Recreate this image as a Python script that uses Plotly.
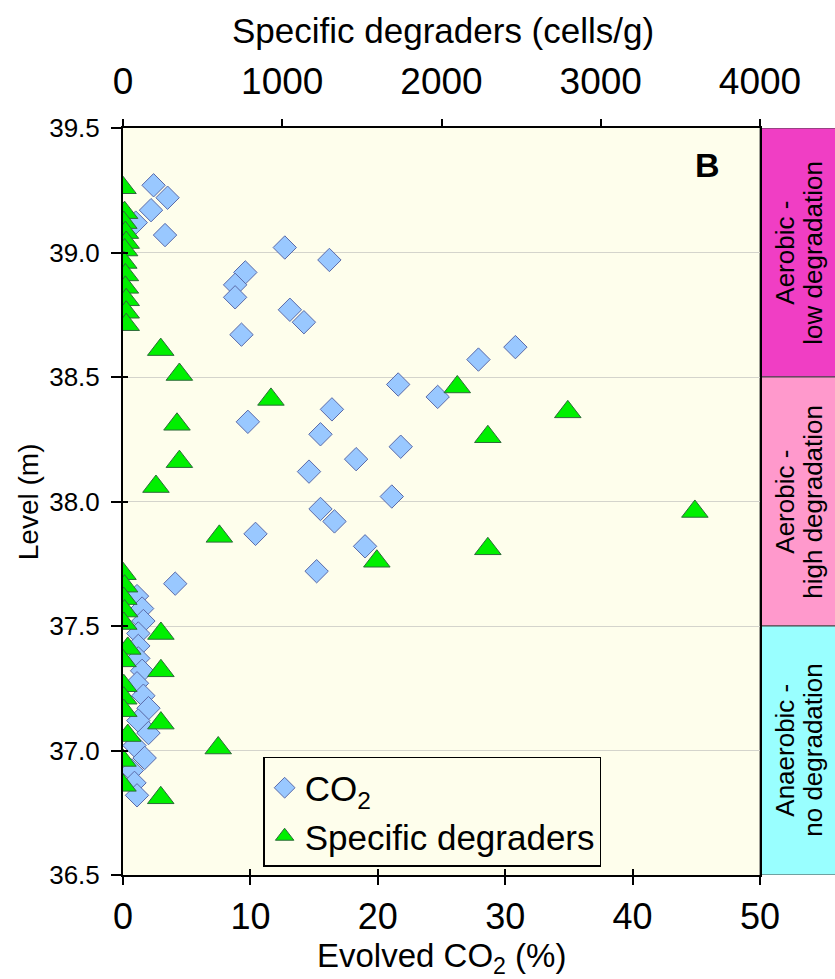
import plotly.graph_objects as go

# Evolved CO2 (%) by sediment level (m)
co2_level = [39.27, 39.22, 39.17, 39.12, 39.07, 39.02, 38.97, 38.92, 38.87, 38.82,
             38.77, 38.72, 38.67, 38.62, 38.57, 38.47, 38.42, 38.37, 38.32, 38.27,
             38.22, 38.17, 38.12, 38.02, 37.97, 37.92, 37.87, 37.82, 37.72, 37.67,
             37.62, 37.57, 37.52, 37.47, 37.42, 37.37, 37.32, 37.27, 37.22, 37.17,
             37.12, 37.07, 37.02, 36.97, 36.92, 36.87, 36.82]
co2_pct = [2.4, 3.5, 2.2, 1.0, 3.3, 12.7, 16.2, 9.6, 8.8, 8.8,
           13.1, 14.2, 9.3, 30.8, 27.9, 21.6, 24.7, 16.4, 9.8, 15.5,
           21.8, 18.3, 14.6, 21.1, 15.5, 16.6, 10.4, 19.0, 15.2, 4.1,
           1.1, 1.5, 1.6, 1.2, 1.2, 1.2, 1.5, 1.1, 1.6, 2.0,
           1.2, 2.0, 0.9, 1.7, 0.7, 0.9, 1.1]

# Specific degraders (cells/g) by sediment level (m)
deg_level = [39.26, 39.16, 39.12, 39.08, 39.04, 39.01, 38.96, 38.91, 38.86, 38.81,
             38.76, 38.71, 38.61, 38.51, 38.46, 38.41, 38.36, 38.31, 38.26, 38.16,
             38.06, 37.96, 37.86, 37.81, 37.76, 37.71, 37.66, 37.61, 37.56, 37.51,
             37.47, 37.41, 37.36, 37.32, 37.26, 37.21, 37.16, 37.11, 37.06, 37.01,
             36.96, 36.86, 36.81]
deg_cells = [0, 10, 5, 15, 20, 10, 5, 15, 15, 20,
             20, 20, 237, 354, 2099, 929, 2793, 339, 2291, 354,
             207, 3591, 605, 2291, 1594, 0, 10, 5, 10, 5,
             238, 30, 0, 238, 5, 5, 5, 238, 30, 598,
             0, 0, 237]

# Redox / degradation zones along the profile
zone_bottom = [38.5, 37.5, 36.5]
zone_top = [39.5, 38.5, 37.5]
zone_line1 = ["Aerobic -", "Aerobic -", "Anaerobic -"]
zone_line2 = ["low degradation", "high degradation", "no degradation"]
zone_colors = ["#F03EC4", "#FF99CC", "#99FFFF"]

y_ticks = [36.5, 37.0, 37.5, 38.0, 38.5, 39.0, 39.5]
x_ticks = [0, 10, 20, 30, 40, 50]
top_ticks = [0, 1000, 2000, 3000, 4000]

FONT = "Liberation Sans, Arial, sans-serif"
PLOT_BG = "#FEFEEC"

fig = go.Figure()

fig.add_trace(go.Scatter(
    x=co2_pct, y=co2_level, mode="markers", name="CO<sub>2</sub>",
    marker=dict(symbol="diamond", size=18, color="#99C8FF",
                line=dict(color="#5A6AA8", width=1)),
    xaxis="x", yaxis="y"))

fig.add_trace(go.Scatter(
    x=deg_cells, y=deg_level, mode="markers", name="Specific degraders",
    marker=dict(symbol="triangle-up", size=23, color="#00F000",
                line=dict(color="#2E6A3A", width=1)),
    xaxis="x2", yaxis="y"))

# empty trace anchoring the inner tick axes
fig.add_trace(go.Scatter(x=[], y=[], xaxis="x3", yaxis="y3",
                         showlegend=False, hoverinfo="skip"))

shapes = []
annotations = []
for lo, hi, l1, l2, col in zip(zone_bottom, zone_top, zone_line1, zone_line2, zone_colors):
    shapes.append(dict(type="rect", xref="paper", yref="y",
                       x0=1.0, x1=1.125, y0=lo, y1=hi,
                       fillcolor=col, line=dict(color="#444444", width=1),
                       layer="below"))
    for xpos, txt in ((1.038, l1), (1.082, l2)):
        annotations.append(dict(xref="paper", yref="y", x=xpos, y=(lo + hi) / 2,
                                text=txt, textangle=-90, showarrow=False,
                                xanchor="center", yanchor="middle",
                                font=dict(family=FONT, size=26, color="black")))

annotations += [
    dict(xref="paper", yref="paper", x=0.502, y=1.131, text="Specific degraders (cells/g)",
         showarrow=False, font=dict(family=FONT, size=35, color="black"),
         xanchor="center", yanchor="middle"),
    dict(xref="paper", yref="paper", x=0.5, y=-0.111, text="Evolved CO<sub>2</sub> (%)",
         showarrow=False, font=dict(family=FONT, size=33, color="black"),
         xanchor="center", yanchor="middle"),
    dict(xref="paper", yref="paper", x=-0.148, y=0.5, text="Level (m)", textangle=-90,
         showarrow=False, font=dict(family=FONT, size=28, color="black"),
         xanchor="center", yanchor="middle"),
    dict(xref="paper", yref="paper", x=0.917, y=0.951, text="<b>B</b>",
         showarrow=False, font=dict(family=FONT, size=34, color="black"),
         xanchor="center", yanchor="middle"),
]

fig.update_layout(
    width=835, height=979,
    margin=dict(l=123, r=75, t=128, b=104),
    paper_bgcolor="white", plot_bgcolor=PLOT_BG,
    font=dict(family=FONT, color="black"),
    shapes=shapes, annotations=annotations,
    xaxis=dict(range=[0, 50], tickvals=x_ticks, ticks="outside", ticklen=8,
               tickwidth=1.5, tickcolor="black", showline=True, linecolor="black",
               linewidth=2, mirror=True, showgrid=False, zeroline=False,
               ticklabelstandoff=1, tickfont=dict(family=FONT, size=36)),
    xaxis2=dict(range=[0, 4000], tickvals=top_ticks, overlaying="x", side="top",
                anchor="y", ticks="outside", ticklen=8, tickwidth=1.5,
                tickcolor="black", showline=False, showgrid=False, zeroline=False,
                ticklabelstandoff=10, tickfont=dict(family=FONT, size=37)),
    xaxis3=dict(range=[0, 50], tickvals=x_ticks, overlaying="x", side="bottom",
                anchor="y3", ticks="inside", ticklen=6, tickwidth=1.5,
                tickcolor="black", showticklabels=False, showline=False,
                showgrid=False, zeroline=False),
    yaxis=dict(range=[36.5, 39.5], tickvals=y_ticks, tickformat=".1f",
               ticks="outside", ticklen=10, tickwidth=1.5, tickcolor="black",
               showline=True, linecolor="black", linewidth=2, mirror=True,
               showgrid=True, gridcolor="#D4D4CC", gridwidth=1, zeroline=False,
               ticklabelstandoff=6, tickfont=dict(family=FONT, size=26)),
    yaxis3=dict(range=[36.5, 39.5], tickvals=y_ticks, overlaying="y", side="left",
                anchor="x3", ticks="inside", ticklen=5, tickwidth=1.5,
                tickcolor="black", showticklabels=False, showline=False,
                showgrid=False, zeroline=False),
    legend=dict(x=0.22, y=0.158, xanchor="left", yanchor="top",
                bgcolor=PLOT_BG, bordercolor="black", borderwidth=1.5,
                font=dict(family=FONT, size=35), itemsizing="trace"),
    showlegend=True,
)

fig.write_html("out.html")
